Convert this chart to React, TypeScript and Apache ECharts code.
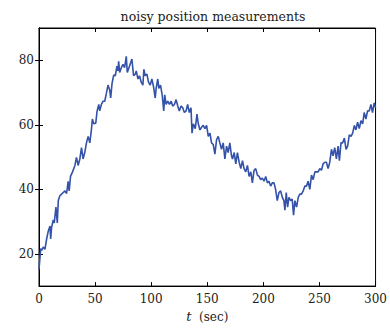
import React, { useEffect, useRef } from "react";
import * as echarts from "echarts";

const tValues = [
  0, 1.5, 2.4, 3.8, 5.3, 6.8, 8.3, 9.8, 10.4, 11.2, 12.7, 13.6, 15.1, 16.3, 17.2, 18.6, 20.1, 21.6, 23.1, 24.6,
  26.0, 26.9, 28.1, 29.9, 32.0, 33.4, 34.9, 36.4, 37.9, 39.3, 40.8, 42.3, 43.8, 45.3, 46.7, 47.6, 48.8, 50.6, 51.8, 53.3,
  54.1, 55.6, 57.1, 58.6, 60.1, 61.5, 63.0, 63.9, 65.1, 66.6, 68.0, 69.5, 70.4, 71.0, 71.9, 73.4, 74.9, 76.3, 77.8, 78.7,
  80.2, 81.7, 82.8, 84.3, 85.8, 86.7, 88.2, 89.6, 91.1, 92.6, 93.5, 94.7, 96.2, 97.6, 99.1, 100.6, 102.1, 103.6, 104.4, 105.9,
  106.8, 108.3, 109.8, 111.2, 112.1, 113.3, 114.8, 116.3, 117.8, 119.2, 120.7, 122.2, 123.7, 125.1, 126.6, 128.1, 129.6, 131.1, 132.5, 134.0,
  135.5, 136.4, 137.6, 139.3, 140.8, 142.0, 143.5, 145.0, 146.4, 147.9, 149.4, 150.9, 152.4, 153.8, 155.3, 156.8, 158.3, 159.8, 161.2, 162.7,
  164.2, 165.7, 167.2, 168.6, 170.1, 171.6, 172.5, 174.0, 175.4, 176.9, 178.4, 179.9, 181.4, 182.8, 184.3, 185.8, 187.3, 188.8, 190.2, 191.7,
  193.2, 194.7, 196.2, 197.6, 199.1, 200.6, 202.1, 203.6, 205.0, 206.5, 208.0, 209.5, 210.9, 212.4, 213.9, 215.4, 216.9, 218.3, 219.2, 220.4,
  221.6, 222.8, 224.3, 225.7, 226.9, 228.1, 229.6, 231.1, 232.5, 234.0, 235.5, 237.0, 238.5, 239.9, 241.4, 242.9, 244.4, 245.9, 247.3, 248.8,
  250.3, 251.8, 253.3, 254.7, 256.2, 257.7, 259.2, 260.7, 262.1, 263.6, 265.1, 266.6, 267.8, 269.2, 270.7, 272.2, 273.7, 275.1, 276.6, 278.1,
  279.6, 281.1, 282.5, 284.0, 285.5, 287.0, 288.5, 289.9, 291.4, 292.9, 294.4, 295.9, 297.3, 298.8, 300,
];

const positions = [
  15.2, 21.6, 21.1, 22.1, 21.4, 24.6, 27.1, 28.6, 24.6, 28.1, 30.5, 29.6, 34.5, 29.6, 36.5, 38.0, 38.5, 39.0, 39.5, 38.7,
  42.5, 39.5, 44.0, 45.4, 47.4, 49.9, 47.4, 49.4, 52.9, 49.4, 51.4, 54.4, 56.4, 54.4, 58.4, 61.8, 60.3, 60.5, 64.3, 66.3,
  64.3, 66.3, 67.3, 67.3, 69.8, 72.3, 70.8, 68.3, 72.8, 75.4, 75.2, 78.2, 76.7, 79.7, 76.2, 77.7, 78.7, 77.7, 81.2, 76.2,
  77.7, 79.2, 80.4, 75.2, 75.7, 76.7, 74.2, 75.2, 73.2, 72.3, 77.2, 75.2, 75.7, 73.2, 72.3, 74.2, 71.8, 68.3, 71.3, 74.2,
  71.3, 72.3, 69.3, 64.3, 69.3, 66.3, 67.3, 66.3, 67.3, 65.8, 66.3, 67.8, 65.8, 64.3, 65.8, 65.3, 63.8, 64.3, 66.3, 63.8,
  65.3, 57.4, 60.3, 58.8, 63.3, 60.3, 58.4, 59.3, 59.8, 58.8, 59.8, 56.4, 57.4, 54.4, 53.9, 50.9, 55.4, 56.4, 54.4, 52.4,
  54.4, 49.4, 53.4, 51.4, 54.4, 50.4, 49.4, 51.4, 47.9, 51.4, 48.4, 46.4, 48.9, 46.4, 45.4, 47.4, 44.0, 45.4, 42.0, 45.9,
  46.4, 44.4, 44.0, 43.0, 43.5, 42.5, 44.0, 42.0, 42.5, 41.0, 42.0, 42.0, 40.0, 36.5, 39.0, 39.5, 37.5, 36.5, 33.5, 39.0,
  34.5, 37.5, 36.5, 37.0, 32.0, 36.5, 34.5, 37.5, 38.5, 38.5, 39.5, 41.0, 41.0, 42.5, 40.0, 44.4, 43.0, 45.4, 45.4, 45.4,
  46.4, 45.9, 47.9, 48.4, 48.4, 46.4, 48.4, 52.4, 50.4, 52.9, 49.4, 53.4, 48.9, 54.4, 54.4, 55.9, 52.4, 53.4, 56.9, 56.4,
  57.4, 59.8, 58.4, 60.8, 58.8, 61.3, 60.3, 63.8, 61.8, 64.3, 64.3, 66.3, 63.8, 66.8, 65.3,
];

const yTickValues = [20, 40, 60, 80];

export default function App() {
  const ref = useRef<HTMLDivElement>(null);
  useEffect(() => {
    const chart = echarts.init(ref.current!, null, { renderer: "svg" });
    const font = "DejaVu Serif";
    const data = tValues.map((t, i) => [t, positions[i]]);
    const axisLineStyle = { color: "#000", width: 1 };
    chart.setOption({
      animation: false,
      title: {
        text: "noisy position measurements",
        left: 208,
        textAlign: "center",
        top: 5,
        textStyle: { fontFamily: font, fontSize: 12.5, fontWeight: "normal", color: "#222" },
      },
      grid: { left: 39, right: 13, top: 28, bottom: 33, show: true, borderColor: "#000", borderWidth: 1, backgroundColor: "#fff" },
      xAxis: [
        {
          type: "value",
          min: 0,
          max: 300,
          interval: 50,
          position: "bottom",
          axisLine: { show: true, lineStyle: axisLineStyle },
          axisTick: { show: true, inside: true, length: 4, lineStyle: axisLineStyle },
          axisLabel: { color: "#222", fontFamily: font, fontSize: 12, margin: 7 },
          splitLine: { show: false },
          name: "{i|t}  (sec)",
          nameLocation: "middle",
          nameGap: 21,
          nameTextStyle: {
            fontFamily: font,
            fontSize: 12,
            color: "#222",
            rich: { i: { fontFamily: font, fontStyle: "italic", fontSize: 13, color: "#222" } },
          },
        },
        {
          type: "value",
          min: 0,
          max: 300,
          interval: 50,
          position: "top",
          axisLine: { show: true, lineStyle: axisLineStyle },
          axisTick: { show: true, inside: true, length: 4, lineStyle: axisLineStyle },
          axisLabel: { show: false },
          splitLine: { show: false },
        },
      ],
      yAxis: [
        {
          type: "value",
          min: 10,
          max: 90,
          interval: 10,
          position: "left",
          axisLine: { show: true, lineStyle: axisLineStyle },
          axisTick: { show: true, inside: true, length: 4, lineStyle: axisLineStyle, customValues: yTickValues },
          axisLabel: { color: "#222", fontFamily: font, fontSize: 12, margin: 5, customValues: yTickValues },
          splitLine: { show: false },
        },
        {
          type: "value",
          min: 10,
          max: 90,
          interval: 10,
          position: "right",
          axisLine: { show: true, lineStyle: axisLineStyle },
          axisTick: { show: true, inside: true, length: 4, lineStyle: axisLineStyle, customValues: yTickValues },
          axisLabel: { show: false },
          splitLine: { show: false },
        },
      ],
      series: [
        {
          type: "line",
          xAxisIndex: 0,
          yAxisIndex: 0,
          data,
          showSymbol: false,
          symbol: "none",
          lineStyle: { color: "#3352a8", width: 1.6 },
        },
      ],
    });
    return () => chart.dispose();
  }, []);
  return <div ref={ref} style={{ position: "absolute", left: 0, top: 0, width: 390, height: 328, background: "#fff" }} />;
}
